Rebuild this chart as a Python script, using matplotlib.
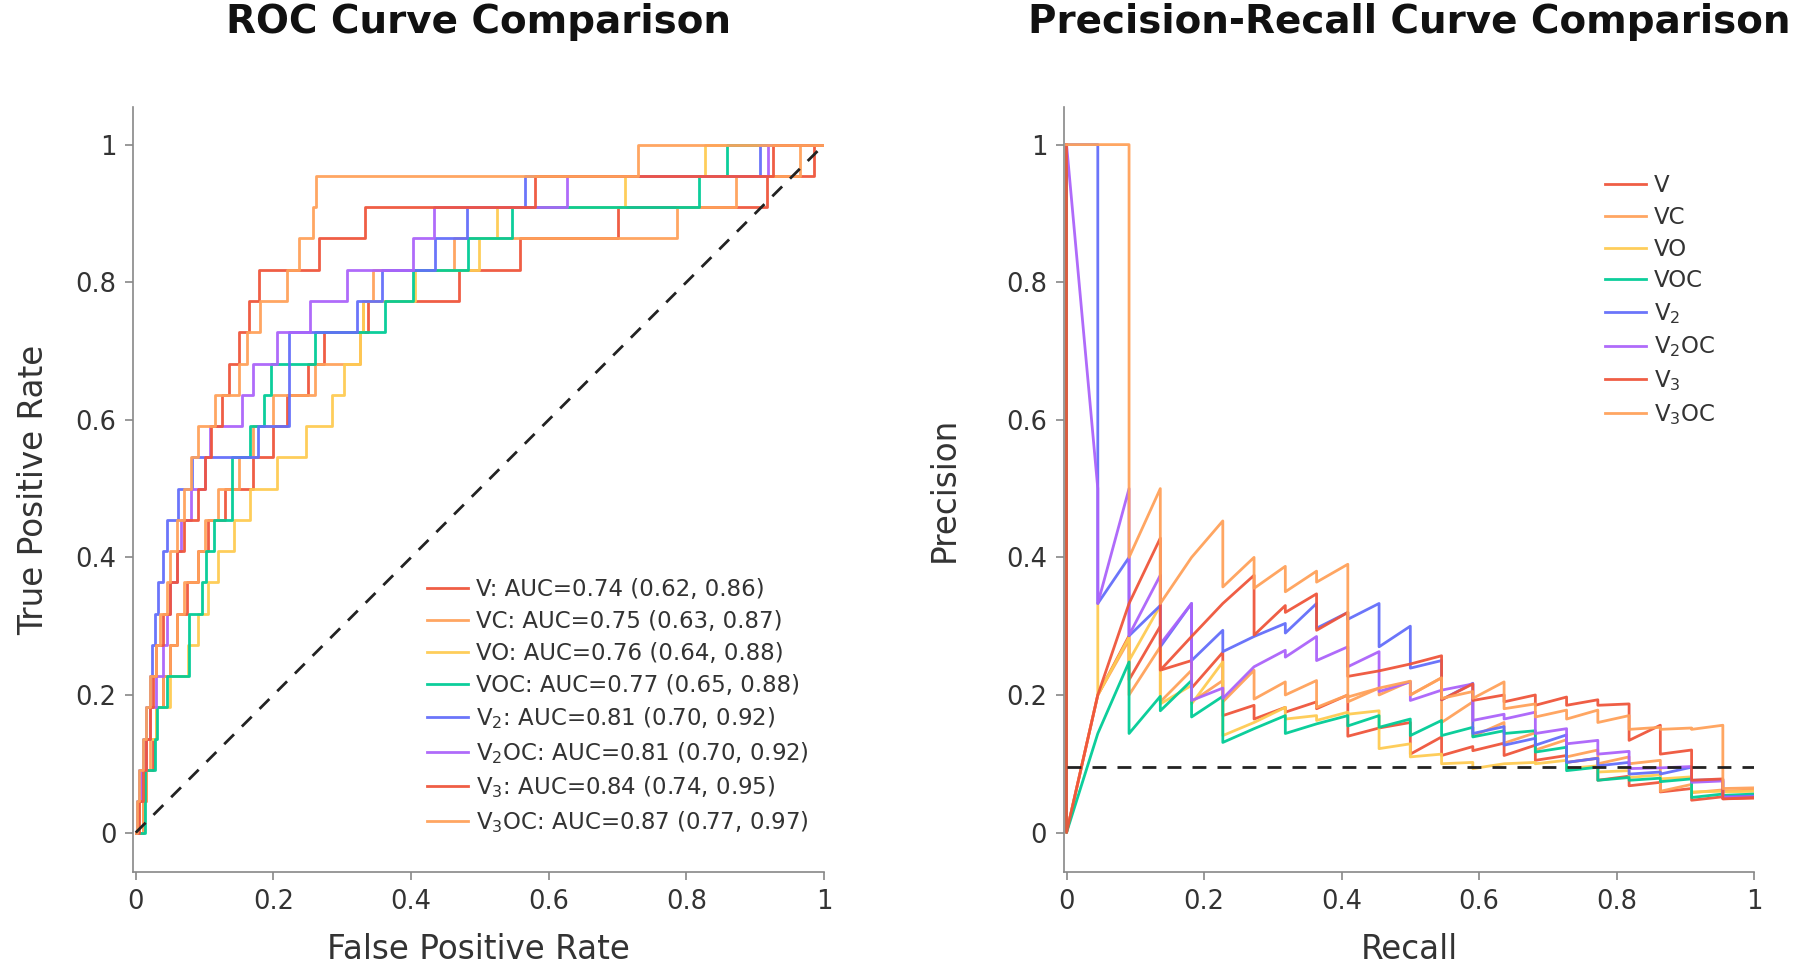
import matplotlib
matplotlib.use("Agg")
import matplotlib.pyplot as plt

plt.rcParams['font.family'] = ['DejaVu Sans']

n_pos = 22
baseline = 0.095

models = ['V', 'VC', 'VO', 'VOC', 'V2', 'V2OC', 'V3', 'V3OC']
names = ['V', 'VC', 'VO', 'VOC', 'V$_2$', 'V$_2$OC', 'V$_3$', 'V$_3$OC']
auc_txt = ['AUC=0.74 (0.62, 0.86)', 'AUC=0.75 (0.63, 0.87)', 'AUC=0.76 (0.64, 0.88)',
           'AUC=0.77 (0.65, 0.88)', 'AUC=0.81 (0.70, 0.92)', 'AUC=0.81 (0.70, 0.92)',
           'AUC=0.84 (0.74, 0.95)', 'AUC=0.87 (0.77, 0.97)']
colors = ['#EF553B', '#FFA15A', '#FECB52', '#00CC96', '#636EFA', '#AB63FA', '#EF553B', '#FFA15A']

# false positive rate at which each of the 22 positives is reached
fpr_V = [.01, .015, .025, .03, .04, .05, .06, .075, .09, .105, .13, .17, .2, .22, .25, .273, .338, .469, .558, .701, .917, .985]
fpr_VC = [.01, .015, .02, .03, .04, .05, .06, .07, .09, .1, .12, .15, .17, .2, .26, .326, .33, .344, .462, .786, .872, .965]
fpr_VO = [.005, .008, .015, .03, .05, .076, .09, .105, .12, .142, .166, .205, .248, .285, .302, .326, .33, .405, .498, .525, .711, .827]
fpr_VOC = [.014, .014, .028, .031, .045, .077, .077, .096, .102, .113, .14, .14, .166, .186, .196, .26, .362, .403, .483, .546, .819, .859]
fpr_V2 = [.002, .005, .011, .015, .02, .024, .028, .032, .04, .045, .062, .082, .177, .222, .222, .222, .321, .358, .435, .481, .566, .907]
fpr_V2OC = [.003, .008, .015, .02, .03, .04, .045, .05, .06, .065, .08, .1, .108, .154, .17, .205, .253, .307, .403, .433, .626, .918]
fpr_V3 = [.005, .01, .015, .02, .025, .03, .04, .05, .06, .07, .09, .1, .11, .126, .136, .15, .164, .179, .266, .333, .58, .926]
fpr_V3OC = [.002, .005, .01, .015, .02, .03, .035, .045, .05, .06, .07, .08, .091, .115, .15, .162, .181, .22, .237, .258, .262, .73]

# precision at recall 0, then at each recall step: value after the positive (hi) and before the next (lo)
start_V = [1, 0]
hi_V = [.2, .286, .30, .25, .262, .185, .182, .19, .2, .152, .16, .139, .125, .13, .127, .112, .108, .082, .073, .064, .052, .05]
lo_V = [.2, .222, .236, .21, .17, .165, .175, .18, .14, .152, .114, .112, .119, .112, .105, .102, .076, .068, .059, .047, .049, .05]
start_VC = [1, 0]
hi_VC = [.2, .28, .27, .236, .221, .236, .219, .221, .2, .21, .22, .225, .19, .16, .145, .135, .12, .11, .105, .07, .062, .062]
lo_VC = [.2, .2, .19, .19, .19, .194, .2, .182, .19, .2, .2, .16, .14, .13, .12, .11, .1, .1, .06, .058, .06, .062]
start_VO = []
hi_VO = [.333, .284, .33, .214, .248, .16, .182, .17, .175, .177, .129, .114, .102, .1, .102, .105, .097, .09, .084, .081, .06, .06]
lo_VO = [.2, .25, .187, .187, .141, .16, .165, .163, .172, .122, .11, .1, .093, .1, .1, .093, .088, .08, .078, .059, .059, .06]
start_VOC = [1, 0]
hi_VOC = [.144, .248, .198, .221, .198, .151, .17, .158, .17, .17, .165, .163, .153, .148, .148, .124, .095, .08, .079, .078, .056, .056]
lo_VOC = [.144, .144, .177, .168, .131, .151, .144, .158, .155, .153, .141, .141, .139, .144, .117, .09, .076, .076, .074, .051, .054, .056]
start_V2 = [1]
hi_V2 = [1, .4, .33, .333, .294, .285, .304, .333, .32, .333, .30, .25, .217, .154, .137, .142, .108, .102, .088, .095, .077, .053]
lo_V2 = [.333, .286, .27, .25, .263, .285, .29, .297, .31, .27, .239, .193, .144, .127, .127, .102, .097, .085, .085, .076, .052, .053]
start_V2OC = [1]
hi_V2OC = [.5, .5, .374, .333, .21, .241, .265, .285, .27, .263, .219, .207, .216, .172, .175, .151, .134, .118, .094, .096, .075, .052]
lo_V2OC = [.333, .287, .274, .192, .195, .241, .255, .25, .241, .205, .192, .207, .163, .165, .144, .129, .114, .093, .094, .073, .051, .052]
start_V3 = [1, 0]
hi_V3 = [.2, .333, .428, .285, .333, .374, .33, .347, .32, .235, .245, .257, .216, .2, .2, .197, .193, .187, .156, .12, .078, .051]
lo_V3 = [.2, .333, .236, .285, .333, .287, .32, .294, .227, .235, .245, .193, .192, .19, .185, .185, .185, .134, .114, .076, .049, .051]
start_V3OC = [1]
hi_V3OC = [1, 1, .50, .40, .453, .40, .387, .38, .39, .21, .22, .225, .205, .219, .187, .178, .178, .17, .153, .152, .156, .065]
lo_V3OC = [1, .40, .333, .40, .357, .355, .35, .364, .197, .21, .2, .195, .195, .18, .168, .165, .16, .15, .15, .15, .064, .065]

roc_data = {'V': fpr_V, 'VC': fpr_VC, 'VO': fpr_VO, 'VOC': fpr_VOC,
            'V2': fpr_V2, 'V2OC': fpr_V2OC, 'V3': fpr_V3, 'V3OC': fpr_V3OC}
pr_data = {'V': (start_V, hi_V, lo_V), 'VC': (start_VC, hi_VC, lo_VC),
           'VO': (start_VO, hi_VO, lo_VO), 'VOC': (start_VOC, hi_VOC, lo_VOC),
           'V2': (start_V2, hi_V2, lo_V2), 'V2OC': (start_V2OC, hi_V2OC, lo_V2OC),
           'V3': (start_V3, hi_V3, lo_V3), 'V3OC': (start_V3OC, hi_V3OC, lo_V3OC)}

text_c = '#333333'
spine_c = '#888888'

fig = plt.figure(figsize=(18, 9.68), dpi=100)
ax1 = fig.add_axes([0.0739, 0.0987, 0.3839, 0.791])
ax2 = fig.add_axes([0.591, 0.0987, 0.3835, 0.791])

for m, name, auc, c in zip(models, names, auc_txt, colors):
    fpr = roc_data[m]
    x, y = [0], [0]
    for k, f in enumerate(fpr, 1):
        x += [f, f]
        y += [(k - 1) / n_pos, k / n_pos]
    x.append(1)
    y.append(1)
    ax1.plot(x, y, color=c, lw=2.0, alpha=0.95, label=name + ': ' + auc)

    start, hi, lo = pr_data[m]
    r = [0] * len(start)
    p = list(start)
    for k in range(n_pos):
        r += [(k + 1) / n_pos] * 2
        p += [hi[k], lo[k]]
    ax2.plot(r, p, color=c, lw=2.0, alpha=0.95, label=name)

ax1.plot([0, 1], [0, 1], color='#222222', lw=2.0, ls=(0, (5, 4)))
ax2.plot([0, 1], [baseline, baseline], color='#222222', lw=2.0, ls=(0, (5, 4)))

ticks = [0, 0.2, 0.4, 0.6, 0.8, 1]
tick_lbl = ['0', '0.2', '0.4', '0.6', '0.8', '1']
for ax in (ax1, ax2):
    ax.set_xlim(-0.004, 1.0)
    ax.set_ylim(-0.058, 1.055)
    ax.set_xticks(ticks)
    ax.set_xticklabels(tick_lbl)
    ax.set_yticks(ticks)
    ax.set_yticklabels(tick_lbl)
    ax.spines['top'].set_visible(False)
    ax.spines['right'].set_visible(False)
    for s in ('left', 'bottom'):
        ax.spines[s].set_color(spine_c)
        ax.spines[s].set_linewidth(1.2)
    ax.tick_params(direction='out', length=6, width=1.2, color=spine_c,
                   labelsize=18.5, labelcolor=text_c, pad=6)

ax1.set_title('ROC Curve Comparison', fontsize=28, fontweight='bold', color='#111111', pad=53)
ax2.set_title('Precision-Recall Curve Comparison', fontsize=28, fontweight='bold', color='#111111', pad=53)
ax1.set_xlabel('False Positive Rate', fontsize=23.5, color=text_c, labelpad=13)
ax1.set_ylabel('True Positive Rate', fontsize=23.5, color=text_c, labelpad=18)
ax2.set_xlabel('Recall', fontsize=23.5, color=text_c, labelpad=13)
ax2.set_ylabel('Precision', fontsize=23.5, color=text_c, labelpad=33)

ax1.legend(loc='upper left', bbox_to_anchor=(0.425, 0.384), frameon=False, fontsize=16.5,
           handlelength=1.8, handletextpad=0.35, labelspacing=0.38, borderpad=0, borderaxespad=0,
           labelcolor=text_c)
ax2.legend(loc='upper left', bbox_to_anchor=(0.784, 0.912), frameon=False, fontsize=16.5,
           handlelength=1.8, handletextpad=0.35, labelspacing=0.38, borderpad=0, borderaxespad=0,
           labelcolor=text_c)

fig.savefig('out.png', dpi=100)
